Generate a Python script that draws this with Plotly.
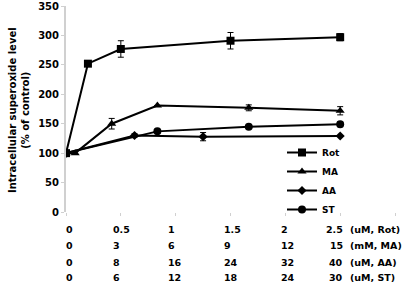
import plotly.graph_objects as go

# ---- data (each series in its own concentration units) ----
rot_x = [0, 0.2, 0.5, 1.5, 2.5]
rot_y = [100, 252, 277, 291, 297]
rot_err = [0, 0, 14, 14, 6]

ma_x = [0, 0.5, 2.5, 5, 10, 15]
ma_y = [100, 100, 150, 181, 177, 172]
ma_err = [0, 0, 9, 0, 5, 7]

aa_x = [0, 10, 20, 40]
aa_y = [100, 130, 128, 129]
aa_err = [0, 3, 7, 0]

st_x = [0, 10, 20, 30]
st_y = [100, 137, 145, 149]
st_err = [0, 0, 0, 4]

# shared axis: Rot units; scale factor of each series to Rot units
rot_scale = 1.0
ma_scale = 2.5 / 15
aa_scale = 2.5 / 40
st_scale = 2.5 / 30

# table of concentrations below the axis
row_rot = ["0", "0.5", "1", "1.5", "2", "2.5"]
row_ma = ["0", "3", "6", "9", "12", "15"]
row_aa = ["0", "8", "16", "24", "32", "40"]
row_st = ["0", "6", "12", "18", "24", "30"]
unit_labels = ["(uM, Rot)", "(mM, MA)", "(uM, AA)", "(uM, ST)"]

y_ticks = [0, 50, 100, 150, 200, 250, 300, 350]

FONT = "DejaVu Sans"
W, H = 403, 292
ML, MR, MT, MB = 66, 8, 6, 80
PW = W - ML - MR
PH = H - MT - MB

def px_x(px):
    return (px - ML) / PW

def px_y(py):
    return (H - MB - py) / PH

fig = go.Figure()

def add_series(name, xs, ys, errs, scale, symbol, size):
    fig.add_trace(go.Scatter(
        x=[v * scale for v in xs], y=ys, name=name, mode="lines+markers",
        line=dict(color="black", width=2),
        marker=dict(symbol=symbol, size=size, color="black"),
        error_y=dict(type="data", array=errs, visible=True, color="black",
                     thickness=1, width=3),
    ))

add_series("Rot", rot_x, rot_y, rot_err, rot_scale, "square", 8)
add_series("MA", ma_x, ma_y, ma_err, ma_scale, "triangle-up", 8)
add_series("AA", aa_x, aa_y, aa_err, aa_scale, "diamond", 7)
add_series("ST", st_x, st_y, st_err, st_scale, "circle", 8)

# table annotations (layout positions in pixels)
col_left_px = [65, 112, 167, 223, 280]
last_right_px = 344
unit_left_px = 349
row_y_px = [229, 246, 262, 277.5]
tfont = dict(family=FONT, size=9.5, color="black", weight="bold")
annotations = []
for r, (row, unit) in enumerate(zip([row_rot, row_ma, row_aa, row_st], unit_labels)):
    for c, txt in enumerate(row):
        if c < len(col_left_px):
            annotations.append(dict(x=px_x(col_left_px[c]), y=px_y(row_y_px[r]), xref="paper", yref="paper",
                                    text=txt, showarrow=False, xanchor="left", yanchor="middle",
                                    font=tfont, borderpad=0))
        else:
            annotations.append(dict(x=px_x(last_right_px), y=px_y(row_y_px[r]), xref="paper", yref="paper",
                                    text=txt, showarrow=False, xanchor="right", yanchor="middle",
                                    font=tfont, borderpad=0))
    annotations.append(dict(x=px_x(unit_left_px), y=px_y(row_y_px[r]), xref="paper", yref="paper",
                            text=unit, showarrow=False, xanchor="left", yanchor="middle",
                            font=tfont, borderpad=0))

# y-axis title as annotation
annotations.append(dict(x=px_x(19), y=px_y(110), xref="paper", yref="paper",
                        text="Intracellular superoxide level<br>(% of control)", textangle=-90,
                        showarrow=False, xanchor="center", yanchor="middle",
                        font=dict(family=FONT, size=10, color="black", weight="bold")))

fig.update_layout(
    width=W, height=H,
    margin=dict(l=ML, r=MR, t=MT, b=MB),
    plot_bgcolor="white", paper_bgcolor="white",
    font=dict(family=FONT, color="black"),
    showlegend=True,
    legend=dict(x=px_x(282), y=px_y(181), xanchor="left", yanchor="middle",
                font=dict(family=FONT, size=9, color="black", weight="bold"),
                bgcolor="rgba(0,0,0,0)", itemwidth=30, tracegroupgap=0),
    annotations=annotations,
    xaxis=dict(range=[0, 3], tickvals=[0, 0.5, 1, 1.5, 2, 2.5, 3], showticklabels=False,
               showgrid=False, zeroline=False, showline=False, automargin=False,
               ticks="outside", ticklen=3, tickcolor="#d0d0d0"),
    yaxis=dict(range=[0, 350], tickvals=y_ticks, showgrid=False, zeroline=False,
               showline=True, linecolor="#d0d0d0", linewidth=2, automargin=False,
               ticks="outside", ticklen=3, tickcolor="#d0d0d0",
               tickfont=dict(family=FONT, size=10, color="black", weight="bold")),
)

fig.write_html("out.html", config={"displayModeBar": False},
               post_script="document.body.style.margin='0px';document.body.style.overflow='hidden';")
